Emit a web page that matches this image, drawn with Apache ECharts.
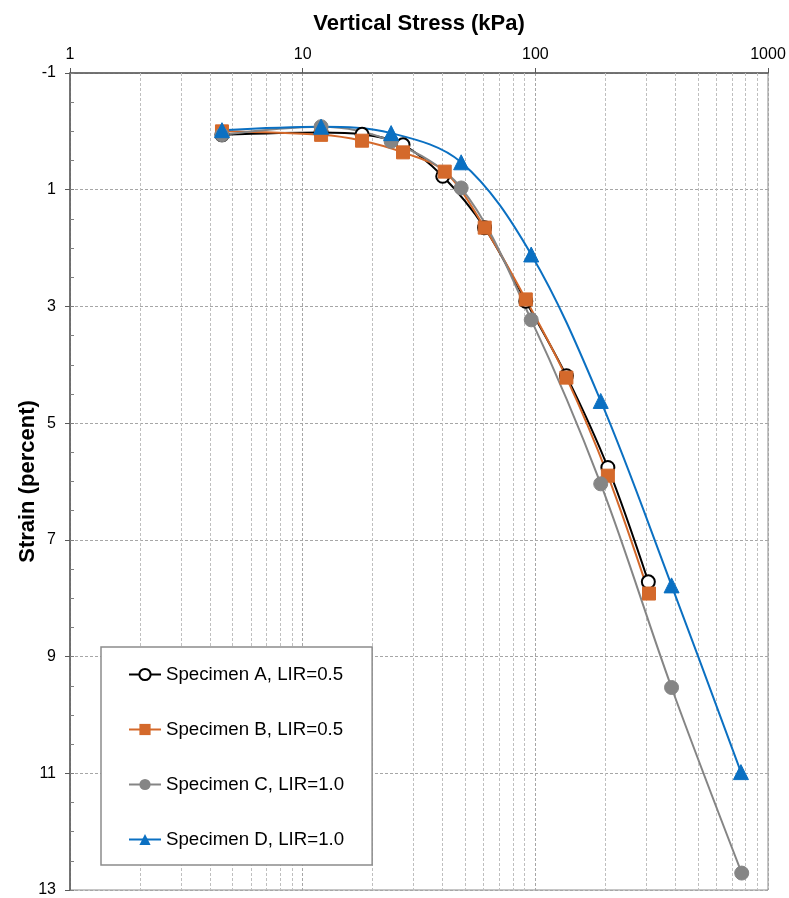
<!DOCTYPE html>
<html>
<head>
<meta charset="utf-8">
<script src="https://cdn.jsdelivr.net/npm/echarts@6/dist/echarts.min.js"></script>
<style>
  html, body { margin: 0; padding: 0; background: #fff; }
  #chart { width: 789px; height: 898px; }
</style>
</head>
<body>
<div id="chart"></div>
<script>
// 读图得到的数据 (x: kPa, y: strain %)
var stressA = [4.5, 12, 18, 27, 40, 60.5, 91, 136, 205, 306];
var strainA = [0.06, 0.02, 0.05, 0.23, 0.77, 1.65, 2.91, 4.19, 5.76, 7.72];

var stressB = [4.5, 12, 18, 27, 40.8, 60.6, 91, 136, 205, 308];
var strainB = [0.0, 0.06, 0.16, 0.36, 0.69, 1.65, 2.88, 4.22, 5.90, 7.92];

var stressC = [4.5, 12, 24, 48, 96, 191, 385, 771];
var strainC = [0.06, -0.08, 0.17, 0.97, 3.23, 6.04, 9.53, 12.71];

var stressD = [4.5, 12, 24, 48, 96, 191, 385, 765];
var strainD = [-0.02, -0.08, 0.03, 0.53, 2.11, 4.62, 7.78, 10.98];

// 对数轴的次网格线
var minorGrid = [2, 3, 4, 5, 6, 7, 8, 9, 20, 30, 40, 50, 60, 70, 80, 90, 200, 300, 400, 500, 600, 700, 800, 900];

var myChart = echarts.init(document.getElementById('chart'));
var font = 'Liberation Sans, Arial, sans-serif';

/**
 * 把x、y数组拼成点
 */
function pairs(xs, ys) {
    let out = [];
    for (let i = 0; i < xs.length; i++) {
        out.push([xs[i], ys[i]]);
    }
    return out;
}

/**
 * 曲线系列
 */
function makeSeries(name, xs, ys, color, symbol, size, extra) {
    let s = {
        name: name,
        type: 'line',
        data: pairs(xs, ys),
        smooth: 0.35,
        symbol: symbol,
        symbolSize: size,
        showAllSymbol: true,
        lineStyle: { color: color, width: 2 },
        itemStyle: { color: color, borderColor: color },
        z: 3
    };
    return Object.assign(s, extra || {});
}

var option = {
    animation: false,
    backgroundColor: '#fff',
    textStyle: { fontFamily: font },
    grid: {
        left: 70, right: 21, top: 73, bottom: 5,
        show: true, borderColor: '#8c8c8c', borderWidth: 1
    },
    xAxis: {
        type: 'log',
        logBase: 10,
        min: 1,
        max: 1000,
        position: 'top',
        name: 'Vertical Stress (kPa)',
        nameLocation: 'middle',
        nameGap: 38,
        nameTextStyle: { fontFamily: font, fontSize: 22, fontWeight: 'bold', color: '#000' },
        axisLine: { show: true, onZero: false, lineStyle: { color: '#595959', width: 1.5 } },
        axisTick: { show: true, length: 5, lineStyle: { color: '#595959' } },
        axisLabel: {
            fontFamily: font, fontSize: 16, color: '#000', margin: 10,
            formatter: function (v) { return String(Math.round(v)); }
        },
        splitLine: { show: true, lineStyle: { color: '#a6a6a6', type: [3, 2], width: 1 } }
    },
    yAxis: [{
        type: 'value',
        inverse: true,
        min: -1,
        max: 13,
        interval: 2,
        name: 'Strain (percent)',
        nameLocation: 'middle',
        nameGap: 31,
        nameMoveOverlap: false,
        nameTextStyle: { fontFamily: font, fontSize: 22, fontWeight: 'bold', color: '#000' },
        axisLine: { show: true, onZero: false, lineStyle: { color: '#595959', width: 1.5 } },
        axisTick: { show: true, length: 5, lineStyle: { color: '#595959' } },
        axisLabel: { fontFamily: font, fontSize: 16, color: '#000', margin: 14 },
        splitLine: { show: true, lineStyle: { color: '#a6a6a6', type: [3, 2], width: 1 } }
    }, {
        // 内侧小刻度
        type: 'value',
        inverse: true,
        min: -1,
        max: 13,
        interval: 0.5,
        position: 'left',
        axisLine: { show: false, onZero: false },
        axisTick: { show: true, inside: true, length: 4, lineStyle: { color: '#7f7f7f' } },
        axisLabel: { show: false },
        splitLine: { show: false }
    }],
    legend: {
        orient: 'vertical',
        left: 101,
        top: 647,
        z: 20,
        padding: [18, 28, 16, 27],
        itemGap: 36,
        itemWidth: 32,
        itemHeight: 14,
        backgroundColor: '#fff',
        borderColor: '#8c8c8c',
        borderWidth: 1.5,
        textStyle: { fontFamily: font, fontSize: 18.7, color: '#000' },
        data: ['Specimen A, LIR=0.5', 'Specimen B, LIR=0.5', 'Specimen C, LIR=1.0', 'Specimen D, LIR=1.0']
    },
    series: [
        {
            name: 'grid',
            type: 'line',
            data: [],
            silent: true,
            z: 1,
            markLine: {
                silent: true,
                symbol: 'none',
                z: 1,
                label: { show: false },
                lineStyle: { color: '#bfbfbf', type: [3, 2], width: 1 },
                data: minorGrid.map(function (v) { return { xAxis: v }; })
            }
        },
        makeSeries('Specimen A, LIR=0.5', stressA, strainA, '#000000', 'emptyCircle', 13,
            { itemStyle: { color: '#000', borderColor: '#000', borderWidth: 2 } }),
        makeSeries('Specimen B, LIR=0.5', stressB, strainB, '#d4692b', 'rect', 13),
        makeSeries('Specimen C, LIR=1.0', stressC, strainC, '#858585', 'circle', 14),
        makeSeries('Specimen D, LIR=1.0', stressD, strainD, '#0b70c2', 'triangle', 15)
    ]
};

myChart.setOption(option);
</script>
</body>
</html>
